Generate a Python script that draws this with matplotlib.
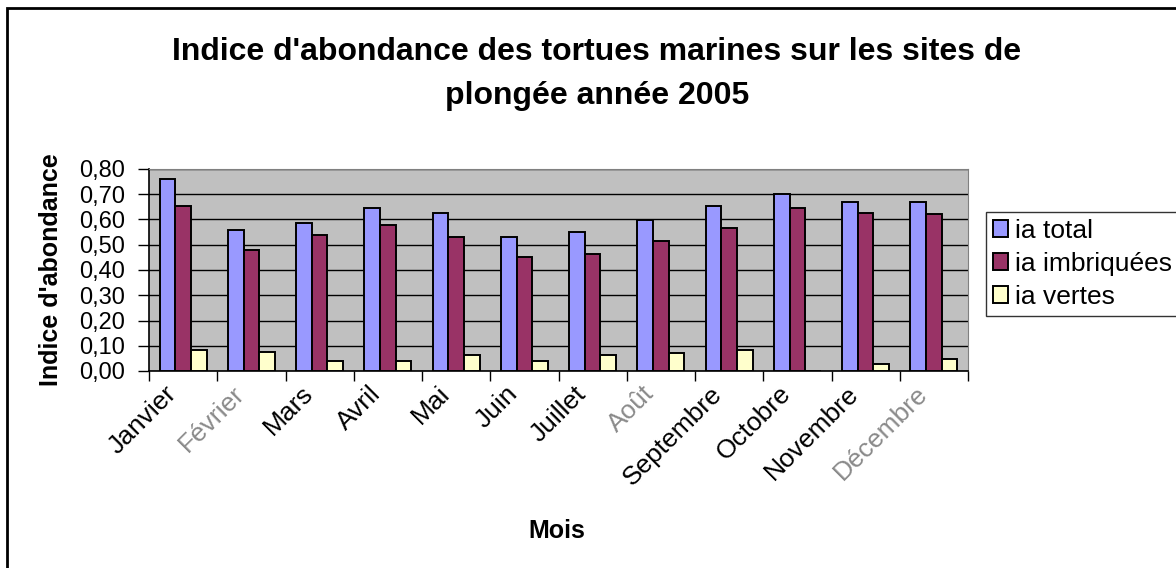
import numpy as np
import matplotlib
matplotlib.use("Agg")
import matplotlib.pyplot as plt
from matplotlib.patches import Rectangle
from matplotlib.ticker import FuncFormatter, MultipleLocator
from matplotlib.transforms import ScaledTranslation

plt.rcParams['font.family'] = ['Liberation Sans', 'DejaVu Sans']

mois = ["Janvier", "Février", "Mars", "Avril", "Mai", "Juin", "Juillet",
        "Août", "Septembre", "Octobre", "Novembre", "Décembre"]
ia_total = [0.76, 0.56, 0.585, 0.645, 0.625, 0.53, 0.55, 0.60, 0.655, 0.70, 0.67, 0.67]
ia_imbriquees = [0.655, 0.48, 0.54, 0.58, 0.53, 0.45, 0.465, 0.515, 0.565, 0.645, 0.625, 0.62]
ia_vertes = [0.085, 0.077, 0.04, 0.04, 0.065, 0.04, 0.065, 0.073, 0.085, 0.0, 0.027, 0.047]

W, H = 1176, 568
fig = plt.figure(figsize=(W / 100, H / 100), dpi=100)
ax = fig.add_axes([149 / W, 1 - 371 / H, (968 - 149) / W, (371 - 169) / H])
ax.set_facecolor("#C0C0C0")

x = np.arange(len(mois))
bw = 0.23
series = [(ia_total, "ia total", "#9999FF"),
          (ia_imbriquees, "ia imbriquées", "#993366"),
          (ia_vertes, "ia vertes", "#FFFFCC")]
for i, (vals, lab, col) in enumerate(series):
    ax.bar(x + (i - 1) * bw, vals, bw, color=col, edgecolor="black",
           linewidth=1.4, label=lab, zorder=3)

ax.set_xlim(-0.5, len(mois) - 0.5)
ax.set_ylim(0, 0.8)
ax.yaxis.set_major_locator(MultipleLocator(0.1))
ax.yaxis.set_major_formatter(FuncFormatter(lambda v, p: f"{v:.2f}".replace(".", ",")))
ax.grid(axis="y", color="black", linewidth=1, zorder=1)
ax.tick_params(axis="y", direction="out", length=8, width=1, labelsize=17, pad=9)

ax.set_xticks(x)
ax.set_xticks(np.arange(-0.5, len(mois)), minor=True)
ax.tick_params(axis="x", which="major", length=0, labelsize=19, pad=4)
ax.tick_params(axis="x", which="minor", direction="out", length=7, width=1)
ax.set_xticklabels(mois, rotation=45, ha="right", rotation_mode="anchor")
shift = ScaledTranslation(-0.19, -0.05, fig.dpi_scale_trans)
for t in ax.get_xticklabels():
    t.set_transform(t.get_transform() + shift)
    if t.get_text() in ("Février", "Août", "Décembre"):
        t.set_color("#8a8a8a")

ax.spines["top"].set_color("#808080")
ax.spines["right"].set_color("#808080")
for s in ("left", "bottom"):
    ax.spines[s].set_color("black")
    ax.spines[s].set_linewidth(1.2)

fig.text(597 / W, 1 - 60 / H, "Indice d'abondance des tortues marines sur les sites de",
         ha="center", va="baseline", fontsize=23, fontweight="bold")
fig.text(597 / W, 1 - 104 / H, "plongée année 2005",
         ha="center", va="baseline", fontsize=23, fontweight="bold")
fig.text(51 / W, 1 - 270 / H, "Indice d'abondance", rotation=90,
         ha="center", va="center", fontsize=18, fontweight="bold")
fig.text(557 / W, 1 - 538 / H, "Mois", ha="center", va="baseline",
         fontsize=18, fontweight="bold")

leg = fig.legend(loc="upper left", bbox_to_anchor=(986 / W, 1 - 212 / H),
                 fontsize=19, frameon=True, fancybox=False, borderaxespad=0,
                 handlelength=0.6, handleheight=0.6, handletextpad=0.25,
                 borderpad=0.25, labelspacing=0.35)
leg.get_frame().set_edgecolor("black")
leg.get_frame().set_linewidth(1)

fig.patches.append(Rectangle((7 / W, -0.05), 1.2, 1 - 8 / H + 0.05,
                             transform=fig.transFigure, fill=False,
                             edgecolor="black", linewidth=2))

fig.savefig("out.png", dpi=100)
